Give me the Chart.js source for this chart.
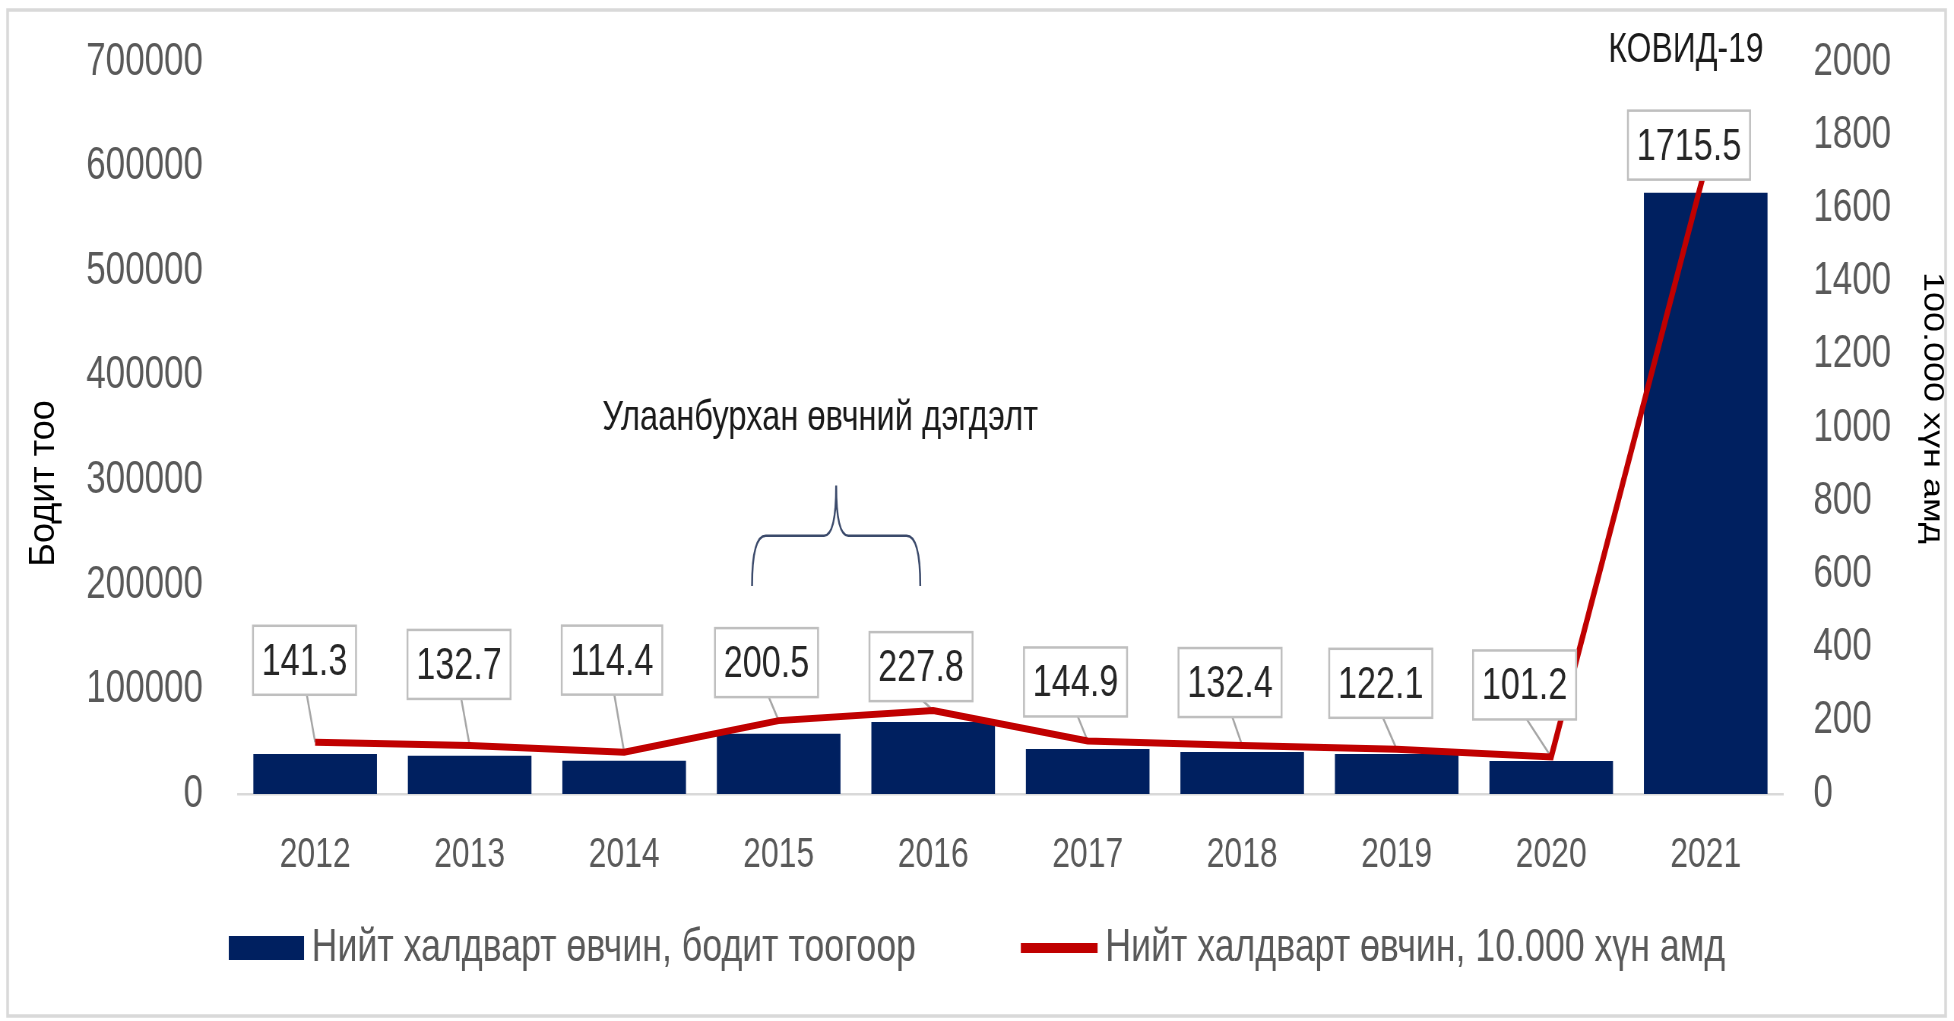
<!DOCTYPE html>
<html>
<head>
<meta charset="utf-8">
<script src="https://cdn.jsdelivr.net/npm/chart.js@4.4.1/dist/chart.umd.min.js"></script>
<style>
  html, body { margin: 0; padding: 0; background: #ffffff; overflow: hidden; width: 1954px; height: 1021px; }
  #wrap { position: absolute; left: 0; top: 0; width: 2571px; height: 1021px; transform: scaleX(0.76); transform-origin: 0 0; }
</style>
</head>
<body>
<div id="wrap"><canvas id="c" width="2571" height="1021"></canvas></div>
<script>
// ---- data ----
const categories = ['2012', '2013', '2014', '2015', '2016', '2017', '2018', '2019', '2020', '2021'];
const casesCount = [38300, 36500, 31700, 57500, 68900, 43100, 40200, 38300, 31600, 574900];
const ratePer = [141.3, 132.7, 114.4, 200.5, 227.8, 144.9, 132.4, 122.1, 101.2, 1715.5];
const leftAxisMax = 700000;
const leftAxisStep = 100000;
const rightAxisMax = 2000;
const rightAxisStep = 200;
const seriesNames = ['Нийт халдварт өвчин, бодит тоогоор', 'Нийт халдварт өвчин, 10.000 хүн амд'];
const axisTitles = ['Бодит тоо', '100.000 хүн амд'];
const measlesNote = 'Улаанбурхан өвчний дэгдэлт';
const covidNote = 'КОВИД-19';

// ---- styles ----
const SQUEEZE = 0.76;
const SANS = '"Liberation Sans", Arial, sans-serif';
const BAR_COLOR = '#002060';
const LINE_COLOR = '#C00000';
const TICK_COLOR = '#595959';

// label box offsets relative to the line point (px, canvas units)
const labelOffsets = [[-14,-82],[-14,-81],[-16,-92],[-16,-58],[-16,-44],[-16,-59],[-16,-63],[-21,-66],[-35,-72],[-22,-21]];
const LABEL_H = 69;

const labelPlugin = {
  id: 'boxLabels',
  beforeDatasetsDraw(chart) {
    const ctx = chart.ctx;
    const meta = chart.getDatasetMeta(1);
    ctx.save();
    ctx.strokeStyle = '#a6a6a6';
    ctx.lineWidth = 2.5;
    meta.data.forEach((pt, i) => {
      const [dx, dy] = labelOffsets[i];
      const cx = pt.x + dx, cy = pt.y + dy;
      const bottom = cy + LABEL_H / 2;
      if (pt.y > bottom + 2) {
        ctx.beginPath();
        ctx.moveTo(cx + 3, bottom);
        ctx.lineTo(pt.x, pt.y);
        ctx.stroke();
      }
    });
    ctx.restore();
  },
  afterDatasetsDraw(chart) {
    const ctx = chart.ctx;
    const meta = chart.getDatasetMeta(1);
    ctx.save();
    ctx.font = '45px ' + SANS;
    ctx.textAlign = 'center';
    ctx.textBaseline = 'middle';
    meta.data.forEach((pt, i) => {
      const text = ratePer[i].toFixed(1);
      const [dx, dy] = labelOffsets[i];
      const cx = pt.x + dx, cy = pt.y + dy;
      const w = ctx.measureText(text).width + 23;
      ctx.fillStyle = '#ffffff';
      ctx.fillRect(cx - w / 2, cy - LABEL_H / 2, w, LABEL_H);
      ctx.strokeStyle = '#bfbfbf';
      ctx.lineWidth = 2.5;
      ctx.strokeRect(cx - w / 2, cy - LABEL_H / 2, w, LABEL_H);
      ctx.fillStyle = '#262626';
      ctx.fillText(text, cx, cy + 2);
    });
    ctx.restore();
  }
};

const decorPlugin = {
  id: 'decor',
  afterDraw(chart) {
    const ctx = chart.ctx;
    const xs = chart.scales.x, ys = chart.scales.y, y1 = chart.scales.y1;
    const area = chart.chartArea;
    ctx.save();
    // outer frame
    ctx.strokeStyle = '#d9d9d9';
    ctx.lineWidth = 3.5;
    ctx.strokeRect(10, 10, chart.width - 21, chart.height - 15);

    // axis titles
    ctx.fillStyle = '#000000';
    ctx.textAlign = 'center';
    ctx.textBaseline = 'middle';
    ctx.font = '36px ' + SANS;
    ctx.save();
    ctx.translate(ys.left + 36, ys.getPixelForValue(297000));
    ctx.scale(1 / SQUEEZE, 1);
    ctx.rotate(-Math.PI / 2);
    ctx.fillText(axisTitles[0], 0, 0);
    ctx.restore();
    ctx.save();
    ctx.translate(y1.right - 18, y1.getPixelForValue(1055));
    ctx.rotate(Math.PI / 2);
    ctx.fillText(axisTitles[1], 0, 0);
    ctx.restore();

    // brace over measles outbreak years
    const L = xs.getPixelForValue(3) - 35, R = xs.getPixelForValue(4) - 17;
    const M = (L + R) / 2;
    const yB = ys.getPixelForValue(199000), yH = ys.getPixelForValue(247000), yP = ys.getPixelForValue(295000);
    ctx.strokeStyle = '#3b4a6b';
    ctx.lineWidth = 2.5;
    ctx.beginPath();
    ctx.moveTo(L, yB);
    ctx.quadraticCurveTo(L, yH, L + 18, yH);
    ctx.lineTo(M - 16, yH);
    ctx.quadraticCurveTo(M, yH, M, yP);
    ctx.quadraticCurveTo(M, yH, M + 16, yH);
    ctx.lineTo(R - 18, yH);
    ctx.quadraticCurveTo(R, yH, R, yB);
    ctx.stroke();

    // notes
    ctx.fillStyle = '#1a1a1a';
    ctx.font = '43px ' + SANS;
    ctx.fillText(measlesNote, M - 21, ys.getPixelForValue(359000));
    ctx.font = '42px ' + SANS;
    ctx.fillText(covidNote, xs.getPixelForValue(9) - 26, area.top - 12);

    // legend
    ctx.font = '47px ' + SANS;
    const t1 = ctx.measureText(seriesNames[0]).width;
    const t2 = ctx.measureText(seriesNames[1]).width;
    const sw1 = 99, sw2 = 101, gap = 10, itemGap = 138;
    const total = sw1 + gap + t1 + itemGap + sw2 + gap + t2;
    let x = (chart.width - total) / 2;
    const ly = 948;
    ctx.fillStyle = BAR_COLOR;
    ctx.fillRect(x, ly - 12, sw1, 24);
    x += sw1 + gap;
    ctx.fillStyle = TICK_COLOR;
    ctx.textAlign = 'left';
    ctx.fillText(seriesNames[0], x, ly);
    x += t1 + itemGap;
    ctx.strokeStyle = LINE_COLOR;
    ctx.lineWidth = 10;
    ctx.beginPath();
    ctx.moveTo(x, ly);
    ctx.lineTo(x + sw2, ly);
    ctx.stroke();
    x += sw2 + gap;
    ctx.fillText(seriesNames[1], x, ly);
    ctx.restore();
  }
};

new Chart(document.getElementById('c'), {
  data: {
    labels: categories,
    datasets: [
      {
        type: 'bar',
        label: seriesNames[0],
        data: casesCount,
        backgroundColor: BAR_COLOR,
        yAxisID: 'y',
        barPercentage: 0.8,
        categoryPercentage: 1.0,
        order: 2
      },
      {
        type: 'line',
        label: seriesNames[1],
        data: ratePer,
        borderColor: LINE_COLOR,
        borderWidth: 7,
        pointRadius: 0,
        tension: 0,
        yAxisID: 'y1',
        order: 1
      }
    ]
  },
  options: {
    responsive: false,
    animation: false,
    layout: { padding: { left: 22, right: 11, top: 62, bottom: 137 } },
    plugins: { legend: { display: false }, tooltip: { enabled: false } },
    scales: {
      x: {
        grid: { display: false, drawTicks: false },
        border: { display: true, color: '#d9d9d9', width: 2.5 },
        ticks: { color: TICK_COLOR, font: { family: SANS, size: 42 }, padding: 36, maxRotation: 0, autoSkip: false },
        afterFit: s => { s.height = 90; }
      },
      y: {
        position: 'left',
        min: 0, max: leftAxisMax,
        grid: { display: false, drawTicks: false },
        border: { display: false },
        ticks: { stepSize: leftAxisStep, color: TICK_COLOR, font: { family: SANS, size: 46 }, padding: 46, callback: v => String(v) },
        title: { display: false, text: axisTitles[0] },
        afterFit: s => { s.width = 291; s.paddingTop = 0; s.paddingBottom = 0; }
      },
      y1: {
        position: 'right',
        min: 0, max: rightAxisMax,
        grid: { display: false, drawTicks: false },
        border: { display: false },
        ticks: { stepSize: rightAxisStep, color: TICK_COLOR, font: { family: SANS, size: 46 }, padding: 40, callback: v => String(v) },
        title: { display: false, text: axisTitles[1] },
        afterFit: s => { s.width = 214; s.paddingTop = 0; s.paddingBottom = 0; }
      }
    }
  },
  plugins: [labelPlugin, decorPlugin]
});
</script>
</body>
</html>
